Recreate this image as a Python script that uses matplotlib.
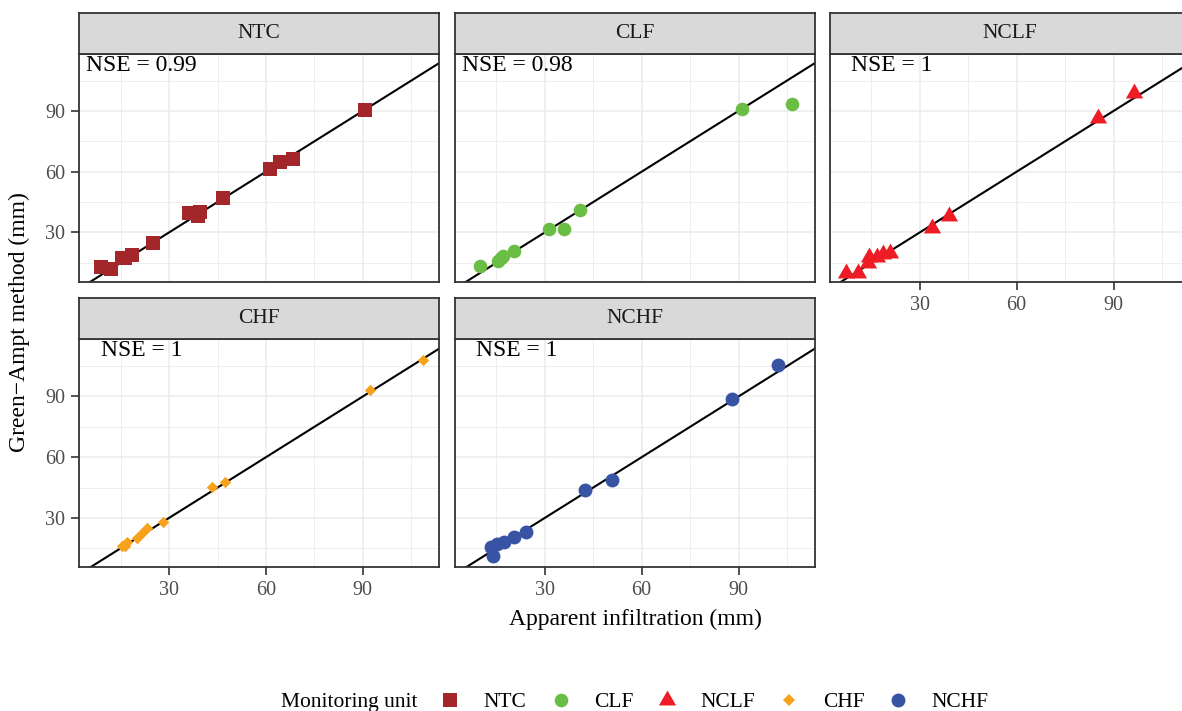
import matplotlib
matplotlib.use('Agg')
import matplotlib.pyplot as plt
from matplotlib.lines import Line2D
from matplotlib.ticker import MultipleLocator

plt.rcParams['font.family'] = ['Liberation Serif', 'DejaVu Serif']

# monitoring units and values (mm)
units = ['NTC', 'CLF', 'NCLF', 'CHF', 'NCHF']
nse_labels = ['NSE = 0.99', 'NSE = 0.98', 'NSE = 1', 'NSE = 1', 'NSE = 1']

ntc_x = [8.9, 12.0, 15.5, 16.5, 18.4, 25.1, 36.3, 39.1, 39.6, 46.6, 61.3, 64.4, 68.5, 90.7]
ntc_y = [13.0, 11.7, 17.3, 17.5, 18.8, 24.9, 39.7, 38.1, 40.2, 47.1, 61.3, 64.6, 66.3, 90.5]

clf_x = [9.9, 15.6, 16.3, 17.0, 20.5, 31.3, 36.0, 40.9, 91.0, 106.7]
clf_y = [13.4, 15.8, 17.5, 18.4, 20.9, 31.5, 31.8, 41.0, 91.0, 93.3]

nclf_x = [7.1, 11.0, 14.1, 14.3, 16.7, 18.7, 20.8, 33.7, 39.1, 85.1, 96.5]
nclf_y = [10.0, 10.0, 15.0, 17.8, 17.8, 19.1, 19.9, 32.1, 38.1, 86.5, 98.8]

chf_x = [15.3, 16.5, 16.9, 20.0, 21.5, 23.1, 28.0, 43.4, 47.4, 92.2, 108.6]
chf_y = [16.2, 16.0, 18.0, 20.0, 22.4, 25.2, 28.2, 45.3, 47.5, 93.3, 107.8]

nchf_x = [13.3, 14.1, 15.1, 17.4, 20.5, 24.1, 42.5, 50.9, 88.1, 102.2]
nchf_y = [15.8, 11.3, 17.0, 18.0, 20.5, 22.9, 43.9, 48.7, 88.9, 105.8]

all_x = [ntc_x, clf_x, nclf_x, chf_x, nchf_x]
all_y = [ntc_y, clf_y, nclf_y, chf_y, nchf_y]

colors = ['#A3262A', '#6ABD45', '#EE1C25', '#F8A11B', '#3953A4']
tri = [(0, 1.0), (-0.866, -0.5), (0.866, -0.5)]
markers = ['s', 'o', tri, 'D', 'o']
msizes = [9.6, 9.8, 14.3, 5.8, 10.0]

W, H = 1182, 711
PW, PH, SH = 360, 228.3, 41
lefts = [79, 454.7, 829.7, 79, 454.7]
tops = [53.5, 53.5, 53.5, 339, 339]
xlim = (2.1, 113.6)
ylim = (5.6, 118.4)
border = '#333333'

fig = plt.figure(figsize=(11.82, 7.11), dpi=100)

for i, unit in enumerate(units):
    l, t = lefts[i], tops[i]
    ax = fig.add_axes([l / W, 1 - (t + PH) / H, PW / W, PH / H])
    ax.set_xlim(*xlim)
    ax.set_ylim(*ylim)
    ax.xaxis.set_major_locator(MultipleLocator(30))
    ax.xaxis.set_minor_locator(MultipleLocator(15))
    ax.yaxis.set_major_locator(MultipleLocator(30))
    ax.yaxis.set_minor_locator(MultipleLocator(15))
    ax.grid(which='major', color='#EBEBEB', lw=1.1)
    ax.grid(which='minor', color='#EBEBEB', lw=0.6)
    ax.set_axisbelow(True)
    for s in ax.spines.values():
        s.set_color(border)
        s.set_linewidth(1.3)
    ax.tick_params(which='minor', length=0)
    ax.tick_params(which='major', length=5.5, width=1.2, color=border,
                   labelsize=14.5, labelcolor='#4D4D4D', pad=4.5)
    if i not in (0, 3):
        ax.tick_params(axis='y', which='major', length=0, labelleft=False)
    if i not in (2, 3, 4):
        ax.tick_params(axis='x', which='major', length=0, labelbottom=False)

    ax.axline((0, 0), slope=1, color='black', lw=1.5, zorder=2)
    ax.scatter(all_x[i], all_y[i], marker=markers[i], s=msizes[i] ** 2,
               color=colors[i], linewidths=0, zorder=3)
    ax.text(21.4, 112.6, nse_labels[i], ha='center', va='center',
            fontsize=17, color='black')

    st = fig.add_axes([l / W, 1 - t / H, PW / W, SH / H])
    st.set_facecolor('#D9D9D9')
    st.set_xticks([])
    st.set_yticks([])
    for s in st.spines.values():
        s.set_color(border)
        s.set_linewidth(1.3)
    st.text(0.5, 0.5, unit, ha='center', va='center', fontsize=15.5,
            color='#1A1A1A', transform=st.transAxes)

fig.text(635 / W, 1 - 625 / H, 'Apparent infiltration (mm)', ha='center',
         va='baseline', fontsize=17, color='black')
fig.text(19 / W, 1 - 322 / H, 'Green\u2212Ampt method (mm)', ha='center',
         va='center', rotation=90, fontsize=17, color='black')

handles = [Line2D([], [], ls='none', marker=markers[i], color=colors[i],
                  markersize=msizes[i], markeredgewidth=0) for i in range(5)]
fig.text(281 / W, 1 - 702 / H, 'Monitoring unit', ha='left', va='center',
         fontsize=15.5, color='black')
fig.legend(handles, units, loc='center left', bbox_to_anchor=(439.5 / W, 1 - 702 / H),
           ncol=5, frameon=False, fontsize=15.5, handlelength=1.0,
           handletextpad=1.05, columnspacing=1.08, borderpad=0, borderaxespad=0)

fig.savefig('out.png', dpi=100)
